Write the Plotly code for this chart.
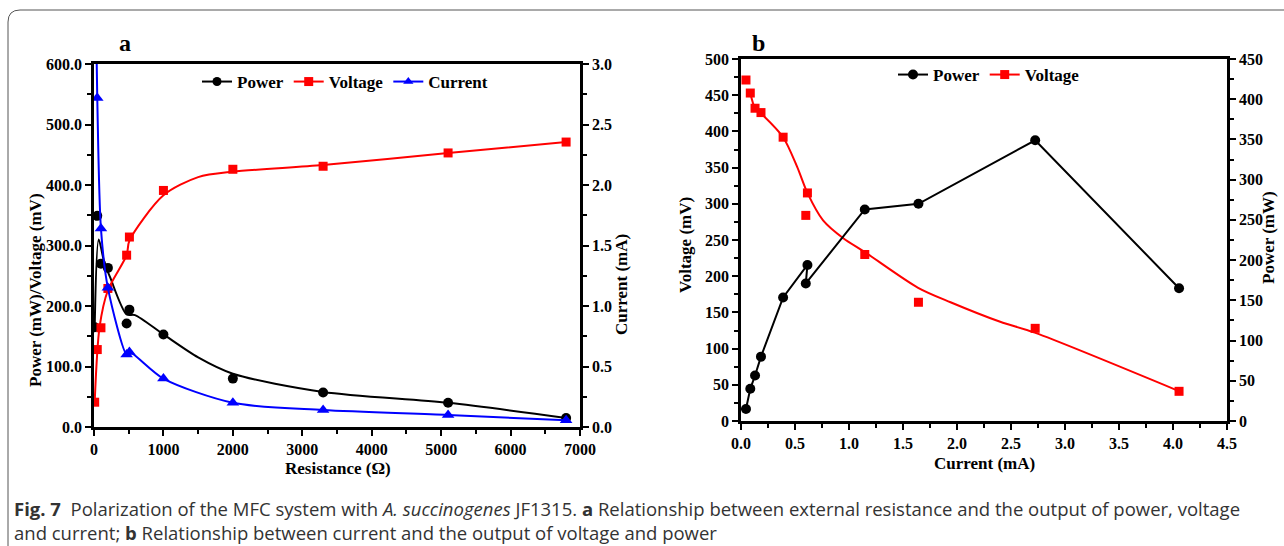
import plotly.graph_objects as go

# ---- panel a: external resistance sweep ----
resistance = [10, 47, 100, 200, 470, 510, 1000, 2000, 3300, 5100, 6800]
power_a = [165, 349, 270, 263, 171, 194, 153, 80, 57, 40, 15]
voltage_a = [41, 128, 164, 229, 284, 314, 391, 426, 431, 453, 471]
current_a = [4.06, 2.72, 1.64, 1.15, 0.60, 0.62, 0.40, 0.20, 0.14, 0.10, 0.055]

# smoothed curves as drawn in the figure
fit_res_p = [10, 68, 150, 230, 470, 590, 1000, 1500, 2000, 3300, 5100, 6800]
fit_power_a = [165, 310, 271, 248, 186, 185, 153, 115, 88, 58, 40, 15]
fit_res_v = [10, 80, 200, 470, 510, 1000, 1500, 2000, 3300, 5100, 6800]
fit_voltage_a = [41, 165, 226, 284, 308, 383, 413, 422, 433, 453, 471]

# ---- panel b: polarization vs current ----
current_b = [0.046, 0.086, 0.13, 0.185, 0.39, 0.615, 0.60, 1.146, 1.643, 2.724, 4.056]
voltage_b = [471, 453, 432, 426, 392, 315, 284, 230, 164, 128, 41]
power_b = [15, 40, 56.5, 80, 153.5, 194, 171, 263, 270, 349, 165]

fit_current_b = [0.086, 0.13, 0.185, 0.39, 0.52, 0.615, 0.76, 0.95, 1.15, 1.64, 1.94, 2.40, 2.72, 4.06]
fit_voltage_b = [453, 432, 425, 392, 351, 315, 277, 252, 233, 184, 164, 137, 122, 41]

BLACK = '#000000'
RED = '#ff0000'
BLUE = '#0000ff'
SERIF = 'Liberation Serif'

fig = go.Figure()

# panel a lines
fig.add_trace(go.Scatter(x=fit_res_p, y=fit_power_a, mode='lines', line=dict(color=BLACK, width=2, shape='spline', smoothing=0.8),
                         xaxis='x', yaxis='y', showlegend=False))
fig.add_trace(go.Scatter(x=fit_res_v, y=fit_voltage_a, mode='lines', line=dict(color=RED, width=2, shape='spline', smoothing=0.8),
                         xaxis='x', yaxis='y', showlegend=False))
fig.add_trace(go.Scatter(x=resistance, y=current_a, mode='lines', line=dict(color=BLUE, width=2, shape='spline', smoothing=0.8),
                         xaxis='x', yaxis='y2', showlegend=False))
# panel a markers
fig.add_trace(go.Scatter(x=resistance, y=power_a, mode='markers', marker=dict(color=BLACK, size=10, symbol='circle'),
                         xaxis='x', yaxis='y', showlegend=False))
fig.add_trace(go.Scatter(x=resistance, y=voltage_a, mode='markers', marker=dict(color=RED, size=9, symbol='square'),
                         xaxis='x', yaxis='y', showlegend=False))
fig.add_trace(go.Scatter(x=resistance, y=current_a, mode='markers', marker=dict(color=BLUE, size=11, symbol='triangle-up'),
                         xaxis='x', yaxis='y2', showlegend=False))
# panel a legend entries
for name, col, sym in [('Power', BLACK, 'circle'), ('Voltage', RED, 'square'), ('Current', BLUE, 'triangle-up')]:
    fig.add_trace(go.Scatter(x=[None], y=[None], mode='lines+markers', name=name,
                             line=dict(color=col, width=2), marker=dict(color=col, size=9, symbol=sym),
                             xaxis='x', yaxis='y', legend='legend'))

# panel b
fig.add_trace(go.Scatter(x=fit_current_b, y=fit_voltage_b, mode='lines', line=dict(color=RED, width=2, shape='spline', smoothing=0.8),
                         xaxis='x2', yaxis='y3', showlegend=False))
fig.add_trace(go.Scatter(x=current_b, y=voltage_b, mode='markers', marker=dict(color=RED, size=9, symbol='square'),
                         xaxis='x2', yaxis='y3', showlegend=False))
fig.add_trace(go.Scatter(x=current_b, y=power_b, mode='lines+markers', name='Power',
                         line=dict(color=BLACK, width=2), marker=dict(color=BLACK, size=10, symbol='circle'),
                         xaxis='x2', yaxis='y4', legend='legend2'))
fig.add_trace(go.Scatter(x=[None], y=[None], mode='lines+markers', name='Voltage',
                         line=dict(color=RED, width=2), marker=dict(color=RED, size=9, symbol='square'),
                         xaxis='x2', yaxis='y3', legend='legend2'))

tickfont = dict(family=SERIF, size=16, color=BLACK, weight='bold')
axis_common = dict(showline=True, linecolor=BLACK, linewidth=2.5, ticks='outside', ticklen=6, tickwidth=2,
                   tickcolor=BLACK, showgrid=False, zeroline=False, tickfont=tickfont, fixedrange=True,
                   automargin=False)
minor = dict(ticks='outside', ticklen=4, tickwidth=1.5, tickcolor=BLACK, showgrid=False)

W, H = 1284, 546
ax_x = [94 / W, 580 / W]
ax_y = [1 - 427 / H, 1 - 64 / H]
bx_x = [741 / W, 1227 / W]
bx_y = [1 - 421 / H, 1 - 59 / H]

legend_font = dict(family=SERIF, size=17, color=BLACK, weight='bold')
fig.update_layout(
    width=W, height=H, autosize=False,
    margin=dict(l=0, r=0, t=0, b=0),
    paper_bgcolor='white', plot_bgcolor='white',
    xaxis=dict(axis_common, domain=ax_x, range=[0, 7000], dtick=1000, anchor='y', mirror=True,
               minor=dict(minor, dtick=500)),
    yaxis=dict(axis_common, domain=ax_y, range=[0, 600], dtick=100, tickformat='.1f', anchor='x',
               minor=dict(minor, dtick=50)),
    yaxis2=dict(axis_common, range=[0, 3], dtick=0.5, tickformat='.1f', overlaying='y', side='right', anchor='x',
                minor=dict(minor, dtick=0.25)),
    xaxis2=dict(axis_common, domain=bx_x, range=[0, 4.5], dtick=0.5, tickformat='.1f', anchor='y3', mirror=True,
                minor=dict(minor, dtick=0.25)),
    yaxis3=dict(axis_common, domain=bx_y, range=[0, 500], dtick=50, anchor='x2',
                minor=dict(minor, dtick=25)),
    yaxis4=dict(axis_common, range=[0, 450], dtick=50, overlaying='y3', side='right', anchor='x2',
                minor=dict(minor, dtick=25)),
    legend=dict(orientation='h', x=345 / W, xanchor='center', y=1 - 82 / H, yanchor='middle',
                font=legend_font, bgcolor='rgba(0,0,0,0)', itemwidth=30, tracegroupgap=0),
    legend2=dict(orientation='h', x=893 / W, xanchor='left', y=1 - 75 / H, yanchor='middle',
                 font=legend_font, bgcolor='rgba(0,0,0,0)', itemwidth=30),
    showlegend=True,
)

title_font = dict(family=SERIF, size=17, color=BLACK, weight='bold')
ann = [
    dict(text='a', x=125 / W, y=1 - 43 / H, font=dict(family=SERIF, size=24, color=BLACK, weight='bold')),
    dict(text='b', x=758 / W, y=1 - 43 / H, font=dict(family=SERIF, size=24, color=BLACK, weight='bold')),
    dict(text='Resistance (Ω)', x=338 / W, y=1 - 468 / H, font=title_font),
    dict(text='Current (mA)', x=984 / W, y=1 - 463 / H, font=title_font),
    dict(text='Power (mW)/Voltage (mV)', x=35 / W, y=1 - 290 / H, textangle=-90, font=title_font),
    dict(text='Current (mA)', x=621 / W, y=1 - 285 / H, textangle=-90, font=title_font),
    dict(text='Voltage (mV)', x=686 / W, y=1 - 245 / H, textangle=-90, font=title_font),
    dict(text='Power (mW)', x=1268 / W, y=1 - 238 / H, textangle=-90, font=title_font),
]
for a in ann:
    fig.add_annotation(xref='paper', yref='paper', showarrow=False, xanchor='center', yanchor='middle', **a)

caption = ('<b>Fig. 7</b>  Polarization of the MFC system with <i>A. succinogenes</i> JF1315. '
           '<b>a</b> Relationship between external resistance and the output of power, voltage<br>'
           'and current; <b>b</b> Relationship between current and the output of voltage and power')
fig.add_annotation(xref='paper', yref='paper', x=12 / W, y=1 - 494 / H, xanchor='left', yanchor='top',
                   showarrow=False, align='left', text=caption,
                   font=dict(family='Open Sans', size=18.5, color='#333333'))

# rounded frame around the figure
x0, yt, r = 8 / W, 1 - 10 / H, 12
fig.add_shape(type='path', xref='paper', yref='paper',
              path=f'M {x0},0 L {x0},{yt - r / H} Q {x0},{yt} {x0 + r / W},{yt} L 1.01,{yt}',
              line=dict(color='#555555', width=1))

# drop the default page margin so the figure sits at the window origin
fig.write_html('out.html', config={'displayModeBar': False},
               post_script="document.body.style.margin='0';")
